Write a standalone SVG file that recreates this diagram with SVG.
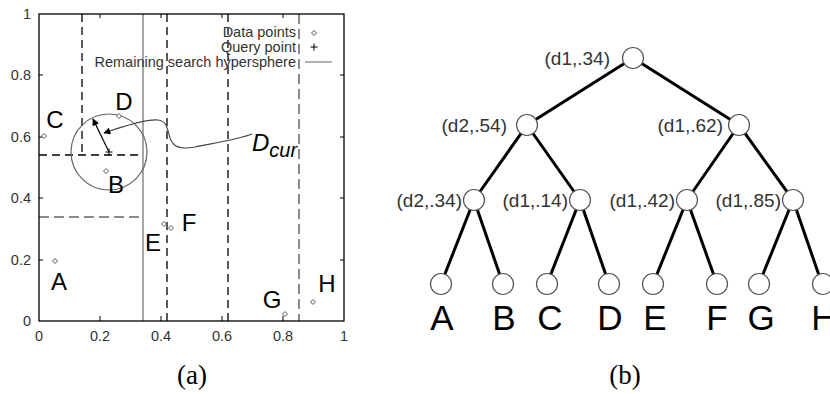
<svg xmlns="http://www.w3.org/2000/svg" width="830" height="394" viewBox="0 0 830 394">
<style>
.tick{font-family:"Liberation Sans",Arial,sans-serif;font-size:14.5px;fill:#333}
.leg{font-family:"Liberation Sans",Arial,sans-serif;font-size:14.5px;fill:#333;text-anchor:end}
.pl{font-family:"Liberation Sans",Arial,sans-serif;font-size:24px;fill:#000}
.cap{font-family:"Liberation Serif","Times New Roman",serif;font-size:27px;fill:#000;text-anchor:middle}
.tl{font-family:"Liberation Sans",Arial,sans-serif;font-size:19px;fill:#333;text-anchor:end}
.ll{font-family:"Liberation Sans",Arial,sans-serif;font-size:35px;fill:#000;text-anchor:middle}
.dash{stroke:#000;stroke-width:1.3;stroke-dasharray:8,5;fill:none}
.gdash{stroke:#666;stroke-width:1.5;stroke-dasharray:10,5;fill:none}
.edge{stroke:#000;stroke-width:3;fill:none}
.node{fill:#fff;stroke:#555;stroke-width:1.2}
.pt{fill:#fff;stroke:#555;stroke-width:1}
</style>
<defs>
<path id="dm" d="M0,-2.5 L2.5,0 L0,2.5 L-2.5,0 Z" class="pt"/>
<marker id="ah" viewBox="0 0 10 10" refX="9" refY="5" markerWidth="9" markerHeight="7" markerUnits="userSpaceOnUse" orient="auto">
<path d="M0,0 L10,5 L0,10 Z" fill="#000"/>
</marker>
</defs>
<rect width="830" height="394" fill="#fff"/>

<g id="plot">
<line x1="82" y1="14" x2="82" y2="155" class="dash"/>
<line x1="39" y1="155" x2="143" y2="155" class="dash" stroke="#333"/>
<line x1="39" y1="217" x2="143" y2="217" class="gdash"/>
<line x1="143" y1="14" x2="143" y2="321" stroke="#777" stroke-width="1.3"/>
<line x1="167" y1="14" x2="167" y2="321" class="dash"/>
<line x1="228" y1="14" x2="228" y2="321" class="dash"/>
<line x1="299" y1="14" x2="299" y2="321" class="gdash"/>
<rect x="39" y="14" width="305" height="307" fill="none" stroke="#000" stroke-width="1.3"/>
<g stroke="#000" stroke-width="1">
<line x1="100" y1="321" x2="100" y2="316"/><line x1="161" y1="321" x2="161" y2="316"/><line x1="222" y1="321" x2="222" y2="316"/><line x1="283" y1="321" x2="283" y2="316"/>
<line x1="100" y1="14" x2="100" y2="18"/><line x1="161" y1="14" x2="161" y2="18"/><line x1="222" y1="14" x2="222" y2="18"/><line x1="283" y1="14" x2="283" y2="18"/>
<line x1="39" y1="75" x2="43" y2="75"/><line x1="39" y1="137" x2="43" y2="137"/><line x1="39" y1="198" x2="43" y2="198"/><line x1="39" y1="260" x2="43" y2="260"/>
<line x1="344" y1="75" x2="340" y2="75"/><line x1="344" y1="137" x2="340" y2="137"/><line x1="344" y1="198" x2="340" y2="198"/><line x1="344" y1="260" x2="340" y2="260"/>
</g>
<g class="tick" text-anchor="end">
<text x="31" y="19">1</text>
<text x="31" y="80">0.8</text>
<text x="31" y="142">0.6</text>
<text x="31" y="203">0.4</text>
<text x="31" y="265">0.2</text>
<text x="31" y="326">0</text>
</g>
<g class="tick" text-anchor="middle">
<text x="39" y="341">0</text>
<text x="100" y="341">0.2</text>
<text x="161" y="341">0.4</text>
<text x="222" y="341">0.6</text>
<text x="283" y="341">0.8</text>
<text x="344" y="341">1</text>
</g>
<text x="296" y="37" class="leg">Data points</text>
<text x="296" y="52" class="leg">Query point</text>
<text x="296" y="67" class="leg">Remaining search hypersphere</text>
<use href="#dm" x="314" y="33"/>
<path d="M310.5,47 h7 M314,43.5 v7" stroke="#000" stroke-width="1"/>
<line x1="305" y1="62" x2="332" y2="62" stroke="#999" stroke-width="1.5"/>
<circle cx="109" cy="152" r="38" fill="none" stroke="#666" stroke-width="1.2"/>
<path d="M105.5,152 h7 M109,148.5 v7" stroke="#000" stroke-width="1"/>
<line x1="109" y1="152" x2="93" y2="119" stroke="#000" stroke-width="1.2" marker-end="url(#ah)"/>
<path d="M252,134 C240,139 215,143 195,147 C178,150 173,146 170,138 C167,128 167,121 158,120 C148,119 130,124 104,133" fill="none" stroke="#444" stroke-width="1.1" marker-end="url(#ah)"/>
<use href="#dm" x="44" y="136"/>
<use href="#dm" x="119" y="116"/>
<use href="#dm" x="106" y="171"/>
<use href="#dm" x="55" y="261"/>
<use href="#dm" x="164" y="224"/>
<use href="#dm" x="171" y="228"/>
<use href="#dm" x="285" y="314"/>
<use href="#dm" x="313" y="302"/>
<text x="124" y="110" class="pl" text-anchor="middle">D</text>
<text x="55" y="128" class="pl" text-anchor="middle">C</text>
<text x="116" y="193" class="pl" text-anchor="middle">B</text>
<text x="59" y="290" class="pl" text-anchor="middle">A</text>
<text x="153" y="251" class="pl" text-anchor="middle">E</text>
<text x="189" y="231" class="pl" text-anchor="middle">F</text>
<text x="272" y="308" class="pl" text-anchor="middle">G</text>
<text x="327" y="292" class="pl" text-anchor="middle">H</text>
<text x="252" y="151" class="pl" font-style="italic">D<tspan font-size="20" dy="6">cur</tspan></text>
<text x="192" y="384" class="cap">(a)</text>
</g>

<g id="connectors">
<line x1="633" y1="58" x2="527" y2="125" class="edge"/>
<line x1="633" y1="58" x2="739" y2="125" class="edge"/>
<line x1="527" y1="125" x2="474" y2="200" class="edge"/>
<line x1="527" y1="125" x2="580" y2="200" class="edge"/>
<line x1="739" y1="125" x2="687" y2="200" class="edge"/>
<line x1="739" y1="125" x2="793" y2="200" class="edge"/>
<line x1="474" y1="200" x2="441" y2="284" class="edge"/>
<line x1="474" y1="200" x2="503" y2="284" class="edge"/>
<line x1="580" y1="200" x2="547" y2="284" class="edge"/>
<line x1="580" y1="200" x2="609" y2="284" class="edge"/>
<line x1="687" y1="200" x2="653" y2="284" class="edge"/>
<line x1="687" y1="200" x2="717" y2="284" class="edge"/>
<line x1="793" y1="200" x2="759" y2="284" class="edge"/>
<line x1="793" y1="200" x2="822" y2="284" class="edge"/>
</g>

<g id="n-root"><circle cx="633" cy="58" r="10.5" class="node"/><text x="610" y="65" class="tl">(d1,.34)</text></g>
<g id="n-d2-54"><circle cx="527" cy="125" r="10.5" class="node"/><text x="507" y="132" class="tl">(d2,.54)</text></g>
<g id="n-d1-62"><circle cx="739" cy="125" r="10.5" class="node"/><text x="723" y="132" class="tl">(d1,.62)</text></g>
<g id="n-d2-34"><circle cx="474" cy="200" r="10.5" class="node"/><text x="462" y="207" class="tl">(d2,.34)</text></g>
<g id="n-d1-14"><circle cx="580" cy="200" r="10.5" class="node"/><text x="568" y="207" class="tl">(d1,.14)</text></g>
<g id="n-d1-42"><circle cx="687" cy="200" r="10.5" class="node"/><text x="675" y="207" class="tl">(d1,.42)</text></g>
<g id="n-d1-85"><circle cx="793" cy="200" r="10.5" class="node"/><text x="781" y="207" class="tl">(d1,.85)</text></g>
<g id="leaf-A"><circle cx="441" cy="284" r="10.5" class="node"/><text x="442" y="330" class="ll">A</text></g>
<g id="leaf-B"><circle cx="503" cy="284" r="10.5" class="node"/><text x="504" y="330" class="ll">B</text></g>
<g id="leaf-C"><circle cx="547" cy="284" r="10.5" class="node"/><text x="550" y="330" class="ll">C</text></g>
<g id="leaf-D"><circle cx="609" cy="284" r="10.5" class="node"/><text x="610" y="330" class="ll">D</text></g>
<g id="leaf-E"><circle cx="653" cy="284" r="10.5" class="node"/><text x="655" y="330" class="ll">E</text></g>
<g id="leaf-F"><circle cx="717" cy="284" r="10.5" class="node"/><text x="717" y="330" class="ll">F</text></g>
<g id="leaf-G"><circle cx="759" cy="284" r="10.5" class="node"/><text x="761" y="330" class="ll">G</text></g>
<g id="leaf-H"><circle cx="823" cy="284" r="10.5" class="node"/><text x="824" y="330" class="ll">H</text></g>
<text x="625" y="384" class="cap">(b)</text>
</svg>
